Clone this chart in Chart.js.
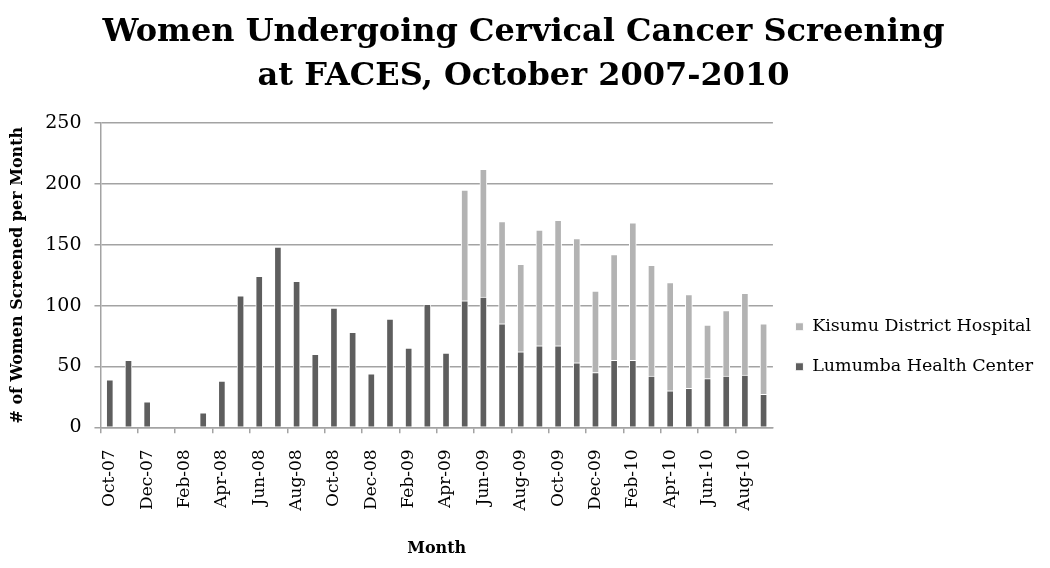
<!DOCTYPE html>
<html>
<head>
<meta charset="utf-8">
<script src="https://cdn.jsdelivr.net/npm/chart.js@4.4.1/dist/chart.umd.min.js"></script>
<style>
  html, body { margin: 0; padding: 0; background: #fff; }
  #wrap { width: 1050px; height: 568px; }
</style>
</head>
<body>
<div id="wrap"><canvas id="screening"></canvas></div>
<script>
// months, Oct-07 .. Sep-10
var months = ['Oct-07','Nov-07','Dec-07','Jan-08','Feb-08','Mar-08','Apr-08','May-08','Jun-08','Jul-08','Aug-08','Sep-08',
              'Oct-08','Nov-08','Dec-08','Jan-09','Feb-09','Mar-09','Apr-09','May-09','Jun-09','Jul-09','Aug-09','Sep-09',
              'Oct-09','Nov-09','Dec-09','Jan-10','Feb-10','Mar-10','Apr-10','May-10','Jun-10','Jul-10','Aug-10','Sep-10'];

var lumumba = [39, 55, 21, 0, 0, 12, 38, 108, 124, 148, 120, 60,
               98, 78, 44, 89, 65, 101, 61, 104, 107, 85, 62, 67,
               67, 53, 45, 55, 55, 42, 30, 32, 40, 42, 43, 27];

var kisumu = [null, null, null, null, null, null, null, null, null, null, null, null,
              null, null, null, null, null, null, null, 91, 105, 84, 72, 95,
              103, 102, 67, 87, 113, 91, 89, 77, 44, 54, 67, 58];

var yTicks = [0, 50, 100, 150, 200, 250];

var gridGray = '#a3a3a3';

Chart.defaults.font.family = "'DejaVu Serif', serif";
Chart.defaults.color = '#000';

var ctx = document.getElementById('screening').getContext('2d');
var screeningChart = new Chart(ctx, {
    type: 'bar',
    data: {
        labels: months,
        datasets: [{
            label: 'Lumumba Health Center',
            data: lumumba,
            backgroundColor: '#5e5e5e',
            borderColor: '#ffffff',
            borderWidth: 1,
            barThickness: 7
        }, {
            label: 'Kisumu District Hospital',
            data: kisumu,
            backgroundColor: '#b3b3b3',
            borderColor: '#ffffff',
            borderWidth: 1,
            barThickness: 7
        }]
    },
    options: {
        responsive: true,
        maintainAspectRatio: false,
        animation: false,
        layout: { padding: { left: 4, right: 7, top: 0, bottom: 6 } },
        plugins: {
            title: {
                display: true,
                text: ['Women Undergoing Cervical Cancer Screening', 'at FACES, October 2007-2010'],
                font: { size: 32, weight: 'bold', lineHeight: 1.36 },
                padding: { top: 11, bottom: 25 }
            },
            legend: {
                position: 'right',
                fullSize: false,
                reverse: true,
                maxWidth: 300,
                title: { display: true, text: '', padding: { top: 0, bottom: 124 }, font: { size: 16 } },
                labels: {
                    boxWidth: 8,
                    boxHeight: 8,
                    padding: 22.5,
                    font: { size: 17.5 }
                }
            },
            tooltip: { enabled: false }
        },
        scales: {
            x: {
                stacked: true,
                grid: {
                    offset: true,
                    drawOnChartArea: false,
                    tickLength: 6,
                    color: function (c) { return c.index % 2 === 0 ? gridGray : 'rgba(0,0,0,0)'; },
                    lineWidth: 1.5
                },
                border: { color: gridGray, width: 1.5 },
                ticks: {
                    autoSkip: false,
                    minRotation: 90,
                    maxRotation: 90,
                    padding: 16,
                    font: { size: 17 },
                    callback: function (v, i) { return i % 2 === 0 ? months[i] : ''; }
                },
                title: {
                    display: true,
                    text: 'Month',
                    font: { size: 16, weight: 'bold' },
                    padding: { top: 12 }
                }
            },
            y: {
                stacked: true,
                min: 0,
                max: 250,
                afterBuildTicks: function (axis) {
                    axis.ticks = yTicks.map(function (v) { return { value: v }; });
                },
                grid: { color: gridGray, lineWidth: 1.5, tickLength: 6 },
                border: { color: gridGray, width: 1.5 },
                ticks: { padding: 13, font: { size: 19 } },
                title: {
                    display: true,
                    text: '# of Women Screened per Month',
                    font: { size: 16, weight: 'bold' },
                    padding: { top: 4, bottom: 5 }
                }
            }
        }
    }
});
</script>
</body>
</html>
